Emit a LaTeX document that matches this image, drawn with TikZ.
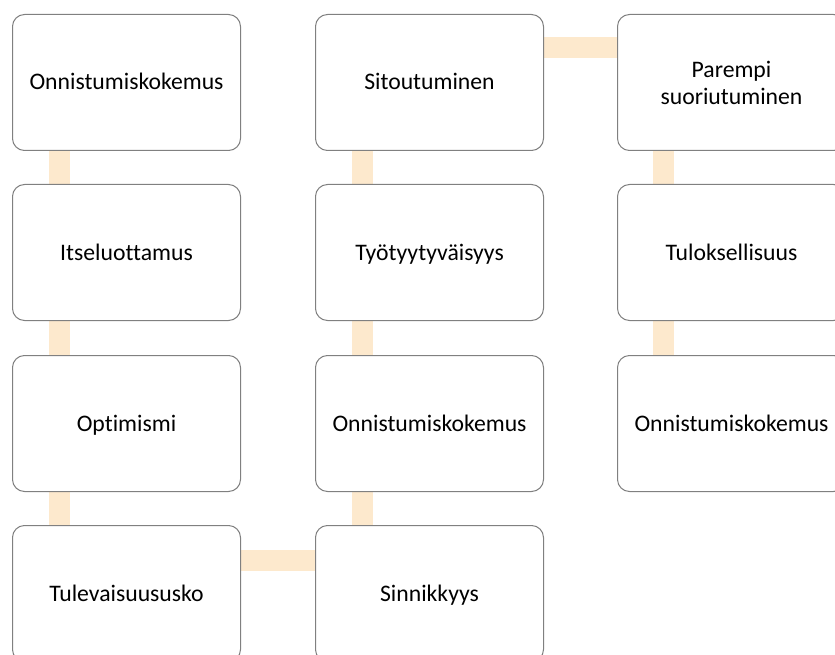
\documentclass[tikz,border=0pt]{standalone}
\usepackage{fontspec}
\setmainfont{Carlito}[Ligatures=NoCommon]
\usetikzlibrary{backgrounds}
\definecolor{boxline}{RGB}{128,128,128}
\definecolor{linkfill}{RGB}{253,233,205}
\tikzset{
  boxbase/.style={draw=boxline, line width=1pt, fill=white, rounded corners=12pt,
    minimum width=228pt, minimum height=136pt, inner sep=0pt, align=center,
    font=\fontsize{23.7pt}{27pt}\selectfont, anchor=north west},
  stepbox/.style={boxbase, text height=17pt, text depth=2pt},
  link/.style={draw=linkfill, line width=21pt},
}
\begin{document}
\begin{tikzpicture}[x=1pt,y=-1pt]
\useasboundingbox (0,0) rectangle (835,655);
\clip (0,0) rectangle (835,655);
% first column
\node[stepbox] (a1) at (12,14) {Onnistumiskokemus};
\node[stepbox] (a2) at (12,184) {Itseluottamus};
\node[stepbox] (a3) at (12,355) {Optimismi};
\node[stepbox] (a4) at (12,525) {Tulevaisuususko};
% second column
\node[stepbox] (b1) at (315,14) {Sitoutuminen};
\node[stepbox] (b2) at (315,184) {Työtyytyväisyys};
\node[stepbox] (b3) at (315,355) {Onnistumiskokemus};
\node[stepbox] (b4) at (315,525) {Sinnikkyys};
% third column
\node[boxbase] (c1) at (617,14) {Parempi\\suoriutuminen};
\node[stepbox] (c2) at (617,184) {Tuloksellisuus};
\node[stepbox] (c3) at (617,355) {Onnistumiskokemus};
% links behind the boxes
\begin{scope}[on background layer]
\draw[link] ([xshift=47pt]a1.south west) -- ([xshift=47pt]a2.north west);
\draw[link] ([xshift=47pt]a2.south west) -- ([xshift=47pt]a3.north west);
\draw[link] ([xshift=47pt]a3.south west) -- ([xshift=47pt]a4.north west);
\draw[link] ([yshift=-35pt]a4.north east) -- ([yshift=-35pt]b4.north west);
\draw[link] ([xshift=47pt]b4.north west) -- ([xshift=47pt]b3.south west);
\draw[link] ([xshift=47pt]b3.north west) -- ([xshift=47pt]b2.south west);
\draw[link] ([xshift=47pt]b2.north west) -- ([xshift=47pt]b1.south west);
\draw[link] ([yshift=-34pt]b1.north east) -- ([yshift=-34pt]c1.north west);
\draw[link] ([xshift=46pt]c1.south west) -- ([xshift=46pt]c2.north west);
\draw[link] ([xshift=46pt]c2.south west) -- ([xshift=46pt]c3.north west);
\end{scope}
\end{tikzpicture}
\end{document}
